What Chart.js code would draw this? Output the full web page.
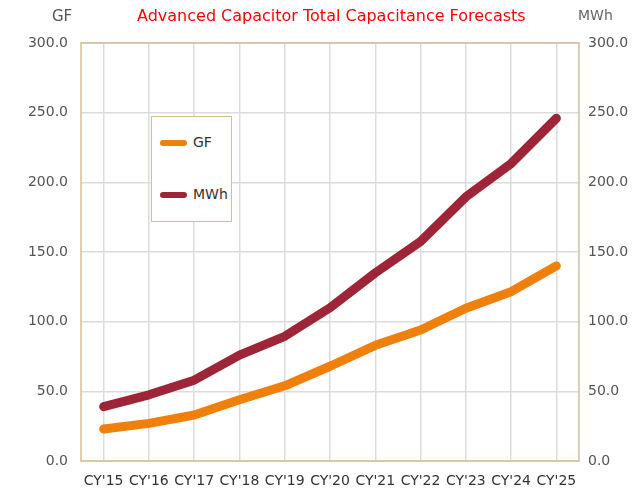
<!DOCTYPE html>
<html>
<head>
<meta charset="utf-8">
<script src="https://cdn.jsdelivr.net/npm/chart.js@4"></script>
<style>
  body { margin: 0; background: #fff; }
  #wrap { position: relative; width: 632px; height: 491px; font-family: 'DejaVu Sans', sans-serif; }
  #title { position: absolute; left: 137px; top: 6px; font-size: 16px; color: #ff0000; white-space: nowrap; }
  .axt { position: absolute; top: 7px; color: #555; white-space: nowrap; }
  #legend { position: absolute; left: 151px; top: 116px; width: 79px; height: 104px;
            border: 1px solid #d6bf95; background: #fff; }
  .item { position: absolute; left: 8px; font-size: 14px; color: #333; }
  .sw { display: inline-block; width: 27px; height: 6px; border-radius: 3px; vertical-align: middle; margin-right: 6px; }
</style>
</head>
<body>
<div id="wrap">
  <canvas id="c" width="632" height="491"></canvas>
  <div id="title">Advanced Capacitor Total Capacitance Forecasts</div>
  <div class="axt" style="left:52px;font-size:15px;">GF</div>
  <div class="axt" style="left:578px;font-size:14px;color:#666;">MWh</div>
  <div id="legend">
    <div class="item" style="top:17px;"><span class="sw" style="background:#f0800c"></span>GF</div>
    <div class="item" style="top:69px;"><span class="sw" style="background:#9e2537"></span>MWh</div>
  </div>
</div>
<script>
// данные
const YEARS = ["CY'15", "CY'16", "CY'17", "CY'18", "CY'19", "CY'20", "CY'21", "CY'22", "CY'23", "CY'24", "CY'25"];
const GF = [23, 27, 33, 44, 54, 68, 83, 94, 109.6, 121.5, 140];
const MWH = [39, 47.5, 58, 76, 89.5, 110, 135, 157.5, 189.5, 213.5, 246];
const Y_MIN = 0, Y_MAX = 300, Y_STEP = 50;

const GRID = '#dcdcdc';
const FRAME = '#d6bf95';

// рамка области построения поверх сетки
const frame = {
  id: 'frame',
  beforeDatasetsDraw(chart) {
    const a = chart.chartArea, ctx = chart.ctx;
    ctx.save();
    ctx.strokeStyle = FRAME;
    ctx.lineWidth = 1.5;
    ctx.strokeRect(a.left, a.top, a.right - a.left, a.bottom - a.top);
    ctx.restore();
  }
};

const tickFont = { family: 'DejaVu Sans', size: 14 };

new Chart(document.getElementById('c'), {
  type: 'line',
  data: {
    labels: YEARS,
    datasets: [
      { label: 'GF', data: GF, yAxisID: 'y', borderColor: '#f0800c', backgroundColor: '#f0800c' },
      { label: 'MWh', data: MWH, yAxisID: 'y1', borderColor: '#9e2537', backgroundColor: '#9e2537' }
    ]
  },
  options: {
    responsive: false,
    animation: false,
    layout: { padding: { top: 43, left: 0, right: 0, bottom: 0 } },
    elements: {
      line: { borderWidth: 9, borderCapStyle: 'round', borderJoinStyle: 'round', tension: 0 },
      point: { radius: 0 }
    },
    plugins: { legend: { display: false }, tooltip: { enabled: false } },
    scales: {
      x: {
        offset: true,
        grid: { color: GRID, lineWidth: 1.5, drawTicks: false },
        border: { display: false },
        ticks: { font: tickFont, color: '#333', padding: 12, maxRotation: 0, autoSkip: false },
        afterFit: s => { s.height = 30; }
      },
      y: {
        position: 'left',
        min: Y_MIN, max: Y_MAX,
        grid: { color: GRID, lineWidth: 1.5, drawTicks: false },
        border: { display: false },
        ticks: { stepSize: Y_STEP, font: tickFont, color: '#555', padding: 13, callback: v => v.toFixed(1) },
        afterFit: s => { s.width = 81; }
      },
      y1: {
        position: 'right',
        min: Y_MIN, max: Y_MAX,
        grid: { display: false, drawTicks: false },
        border: { display: false },
        ticks: { stepSize: Y_STEP, font: tickFont, color: '#555', padding: 9, callback: v => v.toFixed(1) },
        afterFit: s => { s.width = 53; }
      }
    }
  },
  plugins: [frame]
});
</script>
</body>
</html>
